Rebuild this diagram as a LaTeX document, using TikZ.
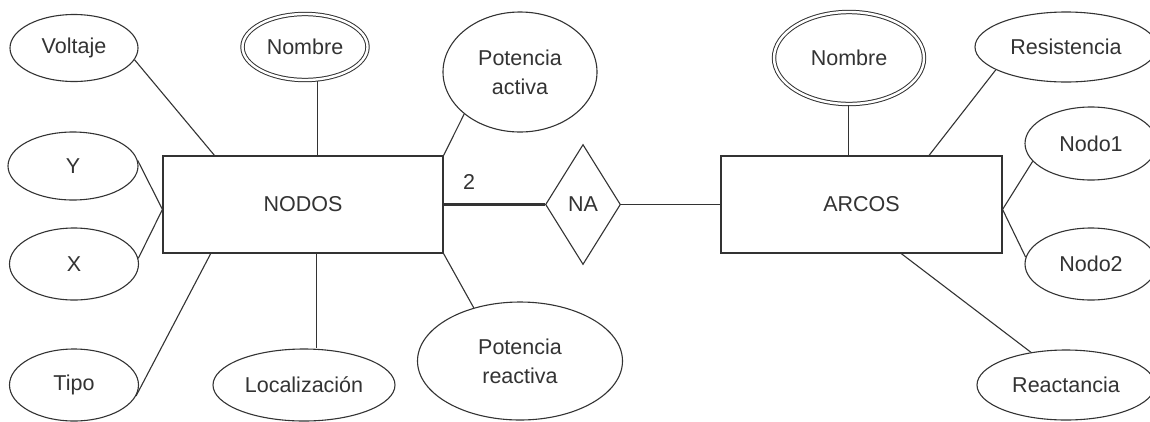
\documentclass[tikz,border=0pt]{standalone}
\usepackage{fontspec}
\setmainfont{Liberation Sans}
\usetikzlibrary{shapes.geometric}
\definecolor{ink}{HTML}{333333}
\begin{document}
\begin{tikzpicture}[x=1pt,y=-1pt,
  every node/.style={font=\fontsize{21.5}{29}\selectfont, text=ink},
  attr/.style={ellipse, draw=ink, line width=1.1pt, inner sep=0pt, align=center},
  keyattr/.style={attr, double=white, double distance=2.4pt, line width=1pt},
  entity/.style={rectangle, draw=ink, line width=1.1pt, inner sep=0pt},
  rel/.style={diamond, draw=ink, line width=1.1pt, inner sep=0pt},
  link/.style={draw=ink, line width=1.1pt},
  strong/.style={draw=ink, line width=2.2pt},
]
\useasboundingbox[fill=white] (0,0) rectangle (1150,421);

% entities and relationship
\node[entity, minimum width=280pt, minimum height=97pt] (nodos) at (303,204.5) {NODOS};
\node[entity, minimum width=281pt, minimum height=97pt] (arcos) at (861.5,204.5) {ARCOS};
\node[rel, minimum width=75pt, minimum height=120pt] (na) at (583,204.5) {NA};

% attributes of NODOS
\node[attr, minimum width=128pt, minimum height=67pt] (volt) at (74,48) {Voltaje};
\node[keyattr, minimum width=125pt, minimum height=66pt] (nom1) at (305,47) {Nombre};
\node[attr, minimum width=154pt, minimum height=120pt] (pact) at (520,72) {Potencia\\activa};
\node[attr, minimum width=130pt, minimum height=68pt] (ycoord) at (73,166) {Y};
\node[attr, minimum width=129pt, minimum height=72pt] (xcoord) at (74,264) {X};
\node[attr, minimum width=129pt, minimum height=72pt] (tipo) at (74,385) {Tipo};
\node[attr, minimum width=182pt, minimum height=72pt] (loc) at (304,385) {Localización};
\node[attr, minimum width=205pt, minimum height=118pt] (prea) at (520,361) {Potencia\\reactiva};

% attributes of ARCOS
\node[keyattr, minimum width=150pt, minimum height=92pt] (nom2) at (849,58) {Nombre};
\node[attr, minimum width=182pt, minimum height=70pt] (res) at (1066,47) {Resistencia};
\node[attr, minimum width=132pt, minimum height=73pt] (n1) at (1091,143.5) {Nodo1};
\node[attr, minimum width=132pt, minimum height=72pt] (n2) at (1091,264) {Nodo2};
\node[attr, minimum width=178pt, minimum height=70pt] (reac) at (1066,385) {Reactancia};

% relationship lines
\draw[strong] (nodos.east) -- (na.west);
\draw[link, line width=1.5pt] (na.east) -- (arcos.west);
\node (card) at (469,182) {2};

% NODOS connectors
\draw[link] (volt.-11) -- (nodos.151.4);
\draw[link] (nodos.74) -- (nodos.74 |- nom1.south);
\draw[link] (pact.217.6) -- (nodos.north east);
\draw[link] (ycoord.5) -- (nodos.182.9);
\draw[link] (xcoord.5) -- (nodos.182.9);
\draw[link] (tipo.-10.6) -- (nodos.208.6);
\draw[link] (nodos.-75.1) -- (nodos.-75.1 |- loc.north);
\draw[link] (prea.131.4) -- (nodos.south east);

% ARCOS connectors
\draw[link] (arcos.105.6) -- (arcos.105.6 |- nom2.south);
\draw[link] (res.198) -- (arcos.36.5);
\draw[link] (n1.197.2) -- (arcos.-2.2);
\draw[link] (n2.174.6) -- (arcos.-2.2);
\draw[link] (reac.137.4) -- (arcos.-51.6);
\end{tikzpicture}
\end{document}
